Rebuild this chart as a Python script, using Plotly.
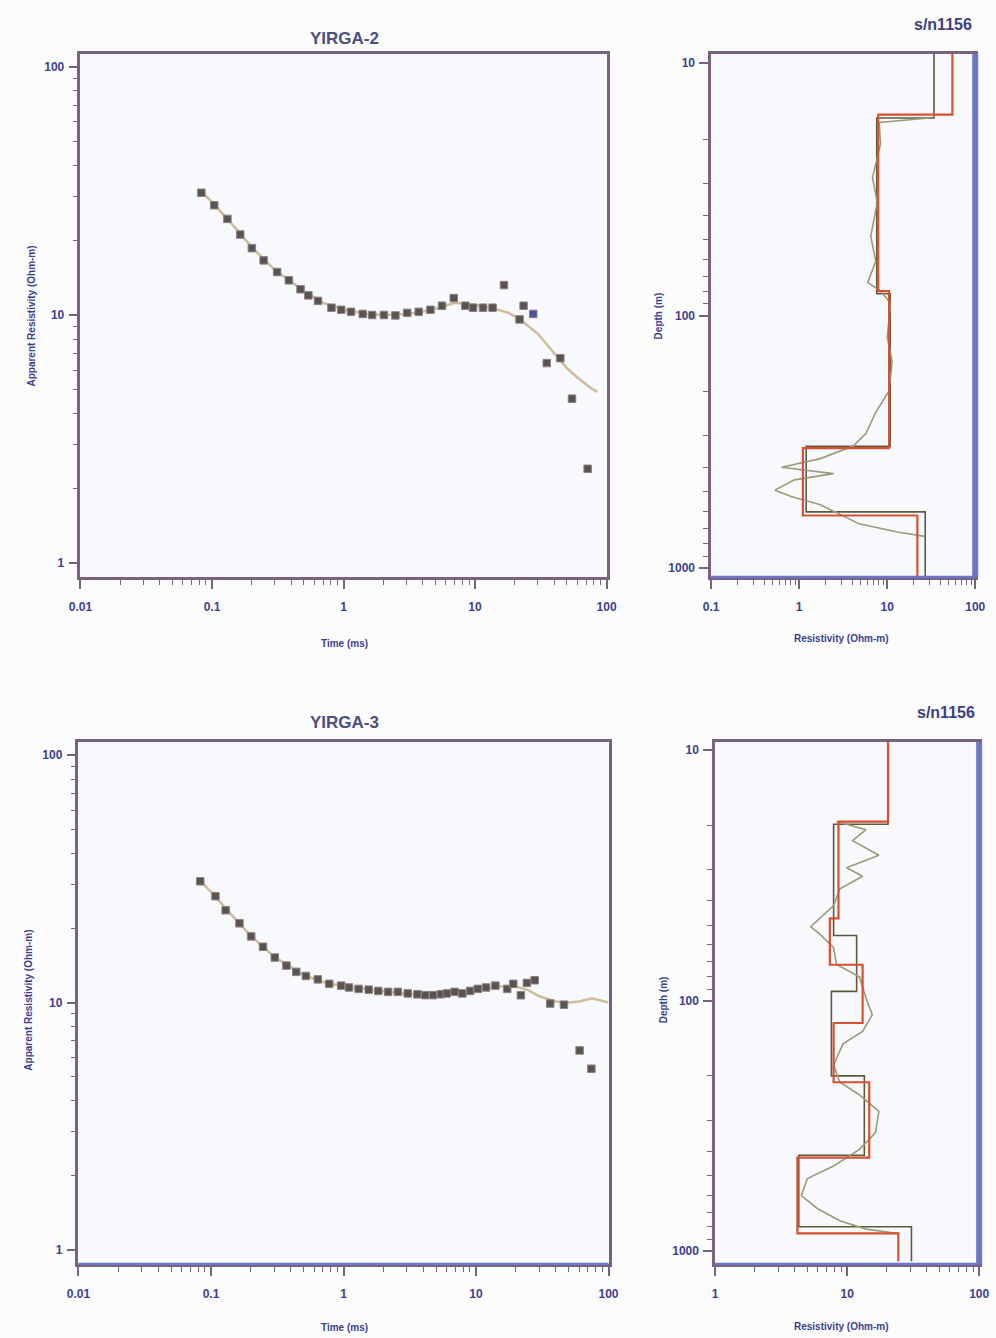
import plotly.graph_objects as go

# ---------------- YIRGA-2 : apparent resistivity sounding ----------------
y2_time = [0.083, 0.104, 0.131, 0.164, 0.201, 0.247, 0.313, 0.384, 0.471, 0.54, 0.64, 0.81,
           0.96, 1.14, 1.40, 1.65, 2.03, 2.48, 3.05, 3.73, 4.58, 5.61, 6.89, 8.44, 9.66,
           11.5, 13.6, 16.6, 21.8, 23.4, 27.7, 35.1, 44.5, 54.6, 71.8]
y2_rho = [31.1, 27.7, 24.4, 21.1, 18.6, 16.6, 14.9, 13.8, 12.7, 12.0, 11.4, 10.7,
          10.5, 10.3, 10.1, 10.0, 10.0, 9.96, 10.2, 10.3, 10.5, 10.9, 11.7, 10.9, 10.7,
          10.7, 10.7, 13.2, 9.6, 10.9, 10.1, 6.4, 6.7, 4.6, 2.4]
y2_fit_time = [0.083, 0.1, 0.15, 0.2, 0.3, 0.5, 0.7, 1, 1.5, 2, 3, 4, 5, 7, 10, 14, 18, 22,
               30, 40, 50, 60, 75, 85]
y2_fit_rho = [31.5, 28.5, 22.5, 18.8, 15.2, 12.5, 11.2, 10.5, 10.1, 10.0, 10.1, 10.3, 10.6,
              11.2, 11.0, 10.6, 10.2, 9.6, 8.4, 7.0, 6.1, 5.6, 5.1, 4.9]

# YIRGA-2 : layered inversion models (resistivity per layer, layer top depths)
y2_red_rho = [55, 7.9, 10.5, 1.1, 22]
y2_red_top = [9.2, 16.0, 80, 335, 620]
y2_dark_rho = [34, 7.6, 10.8, 1.2, 27]
y2_dark_top = [9.2, 16.5, 82, 330, 600]
model_bottom = 1100
# YIRGA-2 : smooth model
y2_smooth_rho = [30, 8.1, 8.4, 6.8, 7.7, 6.5, 7.4, 6.0, 8.4, 10.9, 10.0, 11.4, 10.4, 7.4, 5.7,
                 4.1, 1.74, 0.63, 2.45, 0.88, 0.53, 0.81, 1.74, 4.8, 13.5, 26.7]
y2_smooth_depth = [16.5, 17.2, 20.9, 28.4, 35.7, 48.5, 61, 74, 80, 89.5, 121.6, 153, 200, 242,
                   294, 329, 369, 399, 423, 448, 492, 521, 562, 669, 722, 750]

# ---------------- YIRGA-3 : apparent resistivity sounding ----------------
y3_time = [0.083, 0.108, 0.129, 0.164, 0.201, 0.247, 0.303, 0.371, 0.44, 0.52, 0.64, 0.78,
           0.96, 1.10, 1.30, 1.55, 1.83, 2.17, 2.57, 3.05, 3.61, 4.14, 4.74, 5.43, 6.01,
           6.89, 7.88, 9.03, 10.3, 11.9, 14.0, 17.2, 19.1, 21.8, 24.2, 27.7, 36.3, 46.1,
           60.5, 74.2]
y3_rho = [30.9, 26.9, 23.6, 20.9, 18.5, 16.8, 15.2, 14.1, 13.3, 12.8, 12.4, 11.9,
          11.7, 11.5, 11.35, 11.27, 11.14, 11.04, 11.04, 10.88, 10.79, 10.71, 10.71, 10.8, 10.88,
          11.04, 10.88, 11.14, 11.35, 11.5, 11.7, 11.35, 11.9, 10.7, 12.0, 12.3, 9.9, 9.8,
          6.4, 5.4]
y3_fit_time = [0.083, 0.1, 0.15, 0.2, 0.3, 0.5, 0.7, 1, 2, 3, 5, 7, 10, 15, 20, 25, 30, 40,
               50, 60, 75, 90, 100]
y3_fit_rho = [31, 28, 22, 18.6, 15.3, 12.9, 12.1, 11.6, 11.1, 10.85, 10.7, 10.85, 11.2, 11.6,
              11.6, 11.2, 10.6, 10.1, 10.0, 10.1, 10.4, 10.1, 10.0]

y3_red_rho = [20.4, 8.6, 7.4, 13.1, 7.9, 14.7, 4.2, 24.4]
y3_red_top = [9.3, 19.3, 47, 72, 123, 212, 424, 851]
y3_dark_rho = [20.4, 7.9, 11.8, 7.6, 13.5, 4.3, 30.7]
y3_dark_top = [9.3, 19.8, 55, 92, 200, 415, 800]
y3_smooth_rho = [8.3, 13.9, 11.0, 17.4, 9.9, 13.1, 8.8, 7.9, 5.3, 6.3, 7.9, 8.3, 12.4, 13.9,
                 15.5, 13.1, 9.3, 7.9, 8.8, 12.4, 17.4, 16.4, 12.4, 7.9, 5.0, 4.5, 5.9, 8.8,
                 13.9, 24.4]
y3_smooth_depth = [19.3, 20.8, 23.0, 26.3, 29.5, 31.9, 35.8, 41.8, 50.7, 54.7, 61.5, 71.8,
                   80.5, 97.7, 114, 133, 149, 181, 212, 238, 277, 337, 393, 458, 514, 601,
                   675, 757, 818, 851]

# tick labels
time_ticks = [0.01, 0.1, 1, 10, 100]
time_labels = ["0.01", "0.1", "1", "10", "100"]
rhoa_ticks = [1, 10, 100]
rhoa_labels = ["1", "10", "100"]
depth_ticks = [10, 100, 1000]
depth_labels = ["10", "100", "1000"]
res_ticks_top = [0.1, 1, 10, 100]
res_labels_top = ["0.1", "1", "10", "100"]
res_ticks_bot = [1, 10, 100]
res_labels_bot = ["1", "10", "100"]


def minors(lo_exp, hi_exp):
    out = []
    for e in range(lo_exp, hi_exp):
        for m in range(2, 10):
            out.append(m * 10 ** e)
    return out


def steps(rhos, tops, bottom):
    return rhos + [rhos[-1]], tops + [bottom]


FRAME = "#7a627e"
BLUE = "#6b76c4"
LABEL = "#3c3f8f"
MARK = "#5b5252"
FIT = "#cdbd98"
RED = "#d8502f"
DARK = "#5d5a3c"
SMOOTH = "#9c9a78"

fig = go.Figure()

# ---- top-left
fig.add_trace(go.Scatter(x=y2_fit_time, y=y2_fit_rho, mode="lines",
                         line=dict(color=FIT, width=2.5), xaxis="x", yaxis="y", showlegend=False))
y2_colors = [MARK] * len(y2_time)
y2_colors[30] = "#4b4fa0"
fig.add_trace(go.Scatter(x=y2_time, y=y2_rho, mode="markers",
                         marker=dict(symbol="square", size=7.5, color=y2_colors,
                                     line=dict(color="#8c8484", width=1)),
                         xaxis="x", yaxis="y", showlegend=False))
# ---- top-right
sx, sy = steps(y2_dark_rho, y2_dark_top, model_bottom)
fig.add_trace(go.Scatter(x=sx, y=sy, mode="lines", line=dict(color=DARK, width=1.6, shape="vh"),
                         xaxis="x2", yaxis="y2", showlegend=False))
fig.add_trace(go.Scatter(x=y2_smooth_rho, y=y2_smooth_depth, mode="lines",
                         line=dict(color=SMOOTH, width=1.6), xaxis="x2", yaxis="y2", showlegend=False))
sx, sy = steps(y2_red_rho, y2_red_top, model_bottom)
fig.add_trace(go.Scatter(x=sx, y=sy, mode="lines", line=dict(color=RED, width=2.2, shape="vh"),
                         xaxis="x2", yaxis="y2", showlegend=False))
# ---- bottom-left
fig.add_trace(go.Scatter(x=y3_fit_time, y=y3_fit_rho, mode="lines",
                         line=dict(color=FIT, width=2.5), xaxis="x3", yaxis="y3", showlegend=False))
fig.add_trace(go.Scatter(x=y3_time, y=y3_rho, mode="markers",
                         marker=dict(symbol="square", size=7.5, color=MARK,
                                     line=dict(color="#8c8484", width=1)),
                         xaxis="x3", yaxis="y3", showlegend=False))
# ---- bottom-right
sx, sy = steps(y3_dark_rho, y3_dark_top, model_bottom)
fig.add_trace(go.Scatter(x=sx, y=sy, mode="lines", line=dict(color=DARK, width=1.6, shape="vh"),
                         xaxis="x4", yaxis="y4", showlegend=False))
fig.add_trace(go.Scatter(x=y3_smooth_rho, y=y3_smooth_depth, mode="lines",
                         line=dict(color=SMOOTH, width=1.6), xaxis="x4", yaxis="y4", showlegend=False))
sx, sy = steps(y3_red_rho, y3_red_top, model_bottom)
fig.add_trace(go.Scatter(x=sx, y=sy, mode="lines", line=dict(color=RED, width=2.2, shape="vh"),
                         xaxis="x4", yaxis="y4", showlegend=False))

W, H = 996, 1338


def dom_x(a, b):
    return [a / W, b / W]


def dom_y(top, bot):
    return [1 - bot / H, 1 - top / H]


tickfont = dict(family="Liberation Sans", size=12, color=LABEL, weight="bold")


def axis(domain, rng, tickvals, ticktext, minor_vals, anchor, standoff=2):
    return dict(type="log", domain=domain, range=rng, anchor=anchor,
                tickmode="array", tickvals=tickvals, ticktext=ticktext,
                ticks="outside", ticklen=9, tickwidth=1.5, tickcolor=FRAME,
                ticklabelstandoff=standoff,
                minor=dict(tickmode="array", tickvals=minor_vals, ticks="outside",
                           ticklen=5, tickwidth=1, tickcolor=FRAME, showgrid=False),
                showline=True, linecolor=FRAME, linewidth=2.5, mirror=True,
                showgrid=False, zeroline=False, tickfont=tickfont)


fig.update_layout(
    width=W, height=H, autosize=False,
    margin=dict(l=0, r=0, t=0, b=0),
    paper_bgcolor="#fcfcfd", plot_bgcolor="#f7f9fd",
    xaxis=axis(dom_x(70, 608), [-2, 2], time_ticks, time_labels, minors(-2, 2), "y", 8),
    yaxis=axis(dom_y(54, 577), [-0.056, 2.052], rhoa_ticks, rhoa_labels, minors(0, 2), "x"),
    xaxis2=axis(dom_x(715, 985), [-1, 2], res_ticks_top, res_labels_top, minors(-1, 2), "y2", 8),
    yaxis2=axis(dom_y(54, 577), [3.036, 0.964], depth_ticks, depth_labels, minors(1, 3), "x2"),
    xaxis3=axis(dom_x(68, 610), [-2, 2], time_ticks, time_labels, minors(-2, 2), "y3", 8),
    yaxis3=axis(dom_y(742, 1264), [-0.057, 2.053], rhoa_ticks, rhoa_labels, minors(0, 2), "x3"),
    xaxis4=axis(dom_x(719, 989), [0, 2], res_ticks_bot, res_labels_bot, minors(0, 2), "y4", 8),
    yaxis4=axis(dom_y(742, 1264), [3.052, 0.968], depth_ticks, depth_labels, minors(1, 3), "x4"),
)

shapes = []
for xa, ya in [("x2", "y2"), ("x4", "y4")]:
    shapes.append(dict(type="line", xref=f"{xa} domain", yref=f"{ya} domain",
                       x0=1, x1=1, y0=0, y1=1, line=dict(color=BLUE, width=6)))
for xa, ya in [("x2", "y2"), ("x3", "y3"), ("x4", "y4")]:
    shapes.append(dict(type="line", xref=f"{xa} domain", yref=f"{ya} domain",
                       x0=0, x1=1, y0=0, y1=0, line=dict(color=BLUE, width=2.5)))
fig.update_layout(shapes=shapes)

ann = []
title_font = dict(family="Liberation Sans", size=17, color="#4c4e7e", weight="bold")
sn_font = dict(family="Liberation Sans", size=16, color="#3c3f7f", weight="bold")
lab_font = dict(family="Liberation Sans", size=10, color=LABEL, weight="bold")


def add_text(text, px, py, font, angle=0):
    ann.append(dict(text=text, x=px / W, y=1 - py / H, xref="paper", yref="paper",
                    showarrow=False, font=font, textangle=angle,
                    xanchor="center", yanchor="middle"))


add_text("YIRGA-2", 340, 38, title_font)
add_text("YIRGA-3", 340, 722, title_font)
add_text("s/n1156", 952, 25, sn_font)
add_text("s/n1156", 955, 712, sn_font)
add_text("Apparent Resistivity (Ohm-m)", 20, 316, lab_font, -90)
add_text("Apparent Resistivity (Ohm-m)", 16, 1000, lab_font, -90)
add_text("Time (ms)", 340, 643, lab_font)
add_text("Time (ms)", 340, 1327, lab_font)
add_text("Depth (m)", 662, 316, lab_font, -90)
add_text("Depth (m)", 666, 1000, lab_font, -90)
add_text("Resistivity (Ohm-m)", 848, 638, lab_font)
add_text("Resistivity (Ohm-m)", 848, 1326, lab_font)
fig.update_layout(annotations=ann)

fig.write_html("out.html", config={"displayModeBar": False},
               post_script="document.body.style.margin='0px';document.body.style.overflow='hidden';")
